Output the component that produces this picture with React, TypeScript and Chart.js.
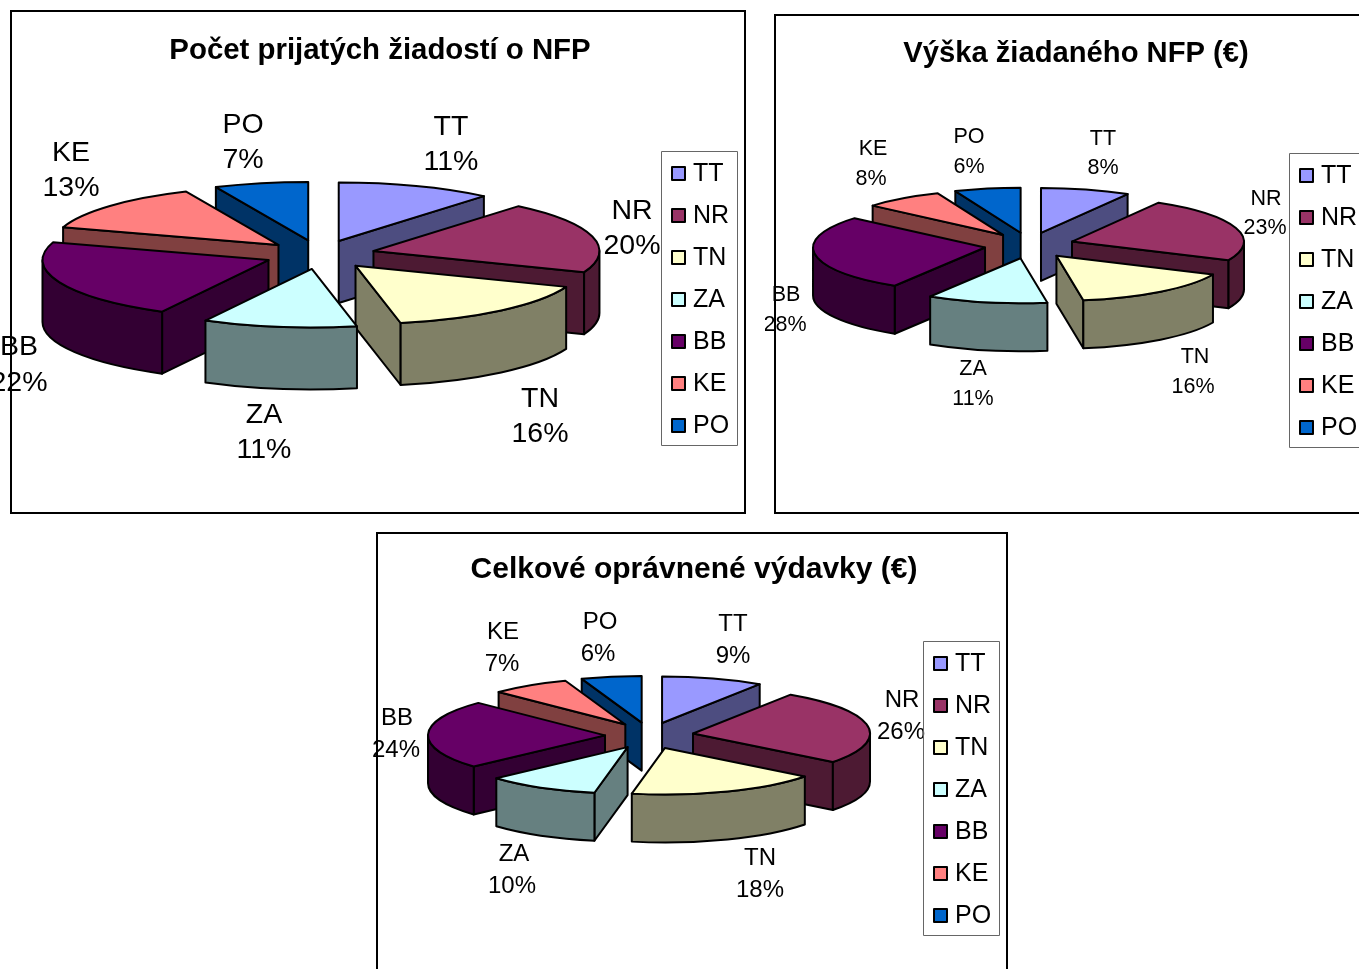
import React, { useEffect, useRef } from "react";
import { Chart, registerables } from "chart.js";

Chart.register(...registerables);

const regions = ["TT", "NR", "TN", "ZA", "BB", "KE", "PO"];
const applicationsPct = [11.1, 19.8, 15.9, 11.0, 22.1, 13.4, 6.7];
const requestedPct = [8.4, 23.4, 15.7, 11.3, 27.5, 7.5, 6.2];
const eligiblePct = [9.3, 26.2, 17.5, 10.3, 24.0, 7.2, 5.5];
const topColors = ["#9999FF", "#993366", "#FFFFCC", "#CCFFFF", "#660066", "#FF8080", "#0066CC"];
const wallColors = ["#4D4D80", "#4D1A33", "#808066", "#668080", "#330033", "#804040", "#003366"];

const titles = ["Počet prijatých žiadostí o NFP", "Výška žiadaného NFP (€)", "Celkové oprávnené výdavky (€)"];

type Panel = {
  title: string; values: number[];
  canvas: [number, number, number, number];
  box: [number, number, number, number];
  cx: number; cy: number; rx: number; ry: number; explode: number; explodeY: number; depth: number;
  labelFont: number; titleFont: number; titleTop: number;
  legend: [number, number, number, number];
  labels: [number, number][];
  labels2: [number, number][];
};

const panels: Panel[] = [
  {
    title: titles[0], values: applicationsPct,
    canvas: [0, 0, 760, 520], box: [11, 11, 734, 502],
    cx: 319.8, cy: 254.6, rx: 226, ry: 58.5, explode: 55.4, explodeY: 14.5, depth: 62,
    labelFont: 28.5, titleFont: 29.4, titleTop: 33,
    legend: [661, 151, 76, 294],
    labels: [[451, 127], [632, 211], [540, 399], [264, 415], [19, 347], [71, 153], [243, 125]],
    labels2: [[451, 162], [632, 246], [540, 434], [264, 450], [19, 383], [71, 188], [243, 160]],
  },
  {
    title: titles[1], values: requestedPct,
    canvas: [765, 0, 622, 520], box: [775, 15, 700, 498],
    cx: 1029.3, cy: 245.5, rx: 172, ry: 45, explode: 44.8, explodeY: 13, depth: 48,
    labelFont: 21.5, titleFont: 29.2, titleTop: 36,
    legend: [1289, 153, 76, 294],
    labels: [[1103, 139], [1266, 199], [1195, 357], [973, 369], [786, 295], [873, 149], [969, 137]],
    labels2: [[1103, 168], [1265, 228], [1193, 387], [973, 399], [785, 325], [871, 179], [969, 167]],
  },
  {
    title: titles[2], values: eligiblePct,
    canvas: [360, 520, 668, 449], box: [377, 533, 630, 520],
    cx: 649.3, cy: 735.6, rx: 177, ry: 46.5, explode: 44.3, explodeY: 13.2, depth: 48,
    labelFont: 24, titleFont: 30, titleTop: 32,
    legend: [923, 641, 76, 294],
    labels: [[733, 624], [902, 700], [760, 858], [514, 854], [397, 718], [503, 632], [600, 622]],
    labels2: [[733, 656], [901, 732], [760, 890], [512, 886], [396, 750], [502, 664], [598, 654]],
  },
];

const FONT = "'Liberation Sans', Arial, sans-serif";

function pie3dPlugin(p: Panel) {
  const ox = p.canvas[0], oy = p.canvas[1];
  return {
    id: "pie3d",
    afterLayout(chart: any) {
      const lg = chart.legend;
      const [l, t, w, h] = p.legend;
      lg.left = l - ox - 7; lg.top = t - oy - 6; lg.width = w; lg.height = h + 60;
      lg.right = lg.left + w; lg.bottom = lg.top + h + 60;
    },
    beforeDraw(chart: any) {
      const ctx = chart.ctx;
      ctx.save();
      ctx.fillStyle = "#fff";
      ctx.fillRect(0, 0, chart.width, chart.height);
      ctx.strokeStyle = "#000";
      ctx.lineWidth = 2;
      ctx.strokeRect(p.box[0] - ox, p.box[1] - oy, p.box[2], p.box[3]);
      ctx.restore();
    },
    beforeDatasetsDraw(chart: any) {
      const ctx = chart.ctx;
      const arcs = chart.getDatasetMeta(0).data as any[];
      const cx = p.cx - ox, cy = p.cy - oy;
      const items = arcs.map((a: any, i: number) => {
        const mid = (a.startAngle + a.endAngle) / 2;
        return {
          i, a0: a.startAngle, a1: a.endAngle,
          ex: cx + p.explode * Math.cos(mid),
          ey: cy + p.explodeY * Math.sin(mid),
          order: Math.sin(mid),
        };
      }).sort((u, v) => u.order - v.order);

      ctx.save();
      ctx.lineWidth = 2;
      ctx.strokeStyle = "#000";
      ctx.lineJoin = "round";
      for (const s of items) {
        const pt = (t: number) => [s.ex + p.rx * Math.cos(t), s.ey + p.ry * Math.sin(t)];
        const radial = (t: number) => {
          const [x, y] = pt(t);
          ctx.beginPath();
          ctx.moveTo(s.ex, s.ey);
          ctx.lineTo(x, y);
          ctx.lineTo(x, y + p.depth);
          ctx.lineTo(s.ex, s.ey + p.depth);
          ctx.closePath();
          ctx.fillStyle = wallColors[s.i];
          ctx.fill();
          ctx.stroke();
        };
        if (Math.cos(s.a0) < 0) radial(s.a0);
        if (Math.cos(s.a1) > 0) radial(s.a1);
        // outer wall: the parts of the rim facing the viewer
        for (const k of [-2, 0, 2]) {
          const lo = Math.max(s.a0, k * Math.PI);
          const hi = Math.min(s.a1, k * Math.PI + Math.PI);
          if (hi <= lo) continue;
          ctx.beginPath();
          ctx.ellipse(s.ex, s.ey, p.rx, p.ry, 0, lo, hi);
          ctx.ellipse(s.ex, s.ey + p.depth, p.rx, p.ry, 0, hi, lo, true);
          ctx.closePath();
          ctx.fillStyle = wallColors[s.i];
          ctx.fill();
          ctx.stroke();
        }
        ctx.beginPath();
        ctx.moveTo(s.ex, s.ey);
        ctx.ellipse(s.ex, s.ey, p.rx, p.ry, 0, s.a0, s.a1);
        ctx.closePath();
        ctx.fillStyle = topColors[s.i];
        ctx.fill();
        ctx.stroke();
      }
      // data labels
      ctx.fillStyle = "#000";
      ctx.textAlign = "center";
      ctx.textBaseline = "middle";
      ctx.font = `${p.labelFont}px ${FONT}`;
      chart.data.labels.forEach((name: string, i: number) => {
        ctx.fillText(name, p.labels[i][0] - ox, p.labels[i][1] - oy);
        ctx.fillText(`${Math.round(chart.data.datasets[0].data[i])}%`, p.labels2[i][0] - ox, p.labels2[i][1] - oy);
      });
      // legend frame and heavier markers
      ctx.strokeStyle = "#666";
      ctx.lineWidth = 1;
      ctx.strokeRect(p.legend[0] - ox + 0.5, p.legend[1] - oy + 0.5, p.legend[2], p.legend[3]);
      ctx.strokeStyle = "#000";
      ctx.lineWidth = 2;
      chart.legend.legendItems.forEach((item: any, i: number) => {
        const x = p.legend[0] - ox + 11;
        const y = p.legend[1] - oy + 16 + i * 42;
        ctx.fillStyle = "#fff";
        ctx.fillRect(x - 2, y - 2, 17, 17);
        ctx.fillStyle = item.fillStyle;
        ctx.fillRect(x, y, 13, 13);
        ctx.strokeRect(x, y, 13, 13);
      });
      ctx.restore();
      return false;
    },
  };
}

function PieCanvas({ panel }: { panel: Panel }) {
  const ref = useRef<HTMLCanvasElement>(null);
  useEffect(() => {
    const chart = new Chart(ref.current as HTMLCanvasElement, {
      type: "pie",
      data: {
        labels: regions,
        datasets: [{
          data: panel.values,
          backgroundColor: topColors,
          borderColor: "#000",
          borderWidth: 1,
        }],
      },
      options: {
        animation: false,
        responsive: false,
        layout: { padding: 0 },
        plugins: {
          title: {
            display: true,
            text: panel.title,
            color: "#000",
            font: { family: FONT, size: panel.titleFont, weight: "bold" },
            padding: { top: panel.titleTop, bottom: 0 },
          },
          legend: {
            display: true,
            position: "right",
            align: "start",
            labels: {
              color: "#000",
              boxWidth: 9.5,
              boxHeight: 12,
              padding: 17,
              font: { family: FONT, size: 25 },
            },
          },
          tooltip: { enabled: false },
        },
      } as any,
      plugins: [pie3dPlugin(panel)],
    });
    return () => chart.destroy();
  }, [panel]);
  const [l, t, w, h] = panel.canvas;
  return (
    <canvas
      ref={ref}
      width={w}
      height={h}
      style={{ position: "absolute", left: l, top: t, width: w, height: h, display: "block" }}
    />
  );
}

export default function App() {
  return (
    <div style={{ position: "fixed", left: 0, top: 0, width: 1359, height: 969, overflow: "hidden", background: "#fff" }}>
      <PieCanvas panel={panels[2]} />
      <PieCanvas panel={panels[0]} />
      <PieCanvas panel={panels[1]} />
    </div>
  );
}
